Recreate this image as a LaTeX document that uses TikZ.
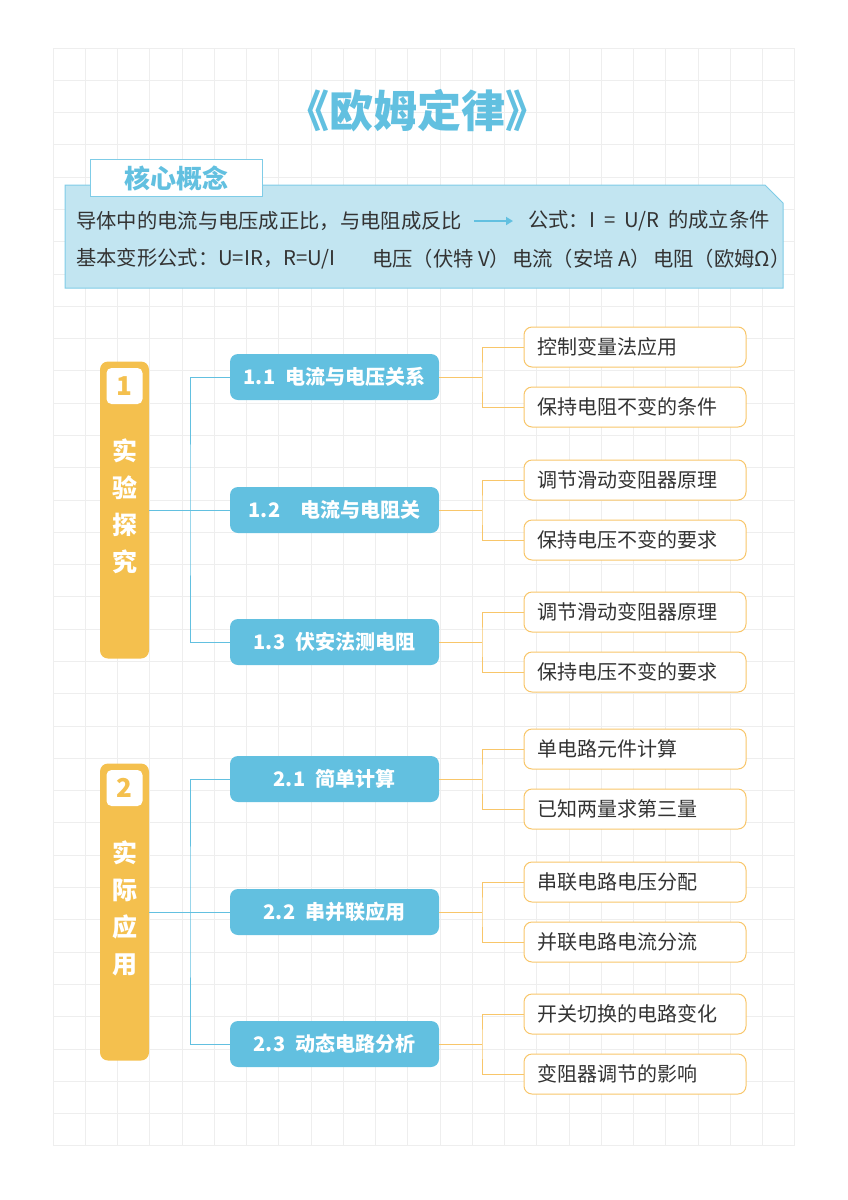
\documentclass[tikz,border=0pt]{standalone}
\usepackage{fontspec}
\setmainfont{Noto Sans CJK SC}
\usetikzlibrary{arrows.meta,positioning}
\definecolor{skyblue}{HTML}{62C0E0}
\definecolor{paleblue}{HTML}{C2E5F1}
\definecolor{edgeblue}{HTML}{7FCCE7}
\definecolor{sunorange}{HTML}{F4C04E}
\definecolor{leaforange}{HTML}{F8C66A}
\definecolor{inkgray}{HTML}{333333}
\definecolor{gridgray}{HTML}{EEEEEE}
\tikzset{
	gridline/.style={draw=gridgray, line width=1pt},
	plaintext/.style={inner sep=0pt, text=inkgray, font=\fontsize{20.3}{24}\selectfont},
	tabbox/.style={draw=edgeblue, fill=white, line width=1pt, minimum width=172pt, minimum height=37pt, text=skyblue, font=\fontsize{26}{30}\selectfont\bfseries},
	secbox/.style={fill=sunorange, rounded corners=8pt, minimum width=49pt, minimum height=297pt},
	numbox/.style={fill=white, rounded corners=5pt, minimum width=36pt, minimum height=36pt, inner sep=0pt, text=sunorange, font=\fontsize{26}{30}\selectfont\bfseries},
	secchars/.style={inner sep=0pt, align=center, text=white, font=\fontsize{25}{37}\selectfont\bfseries},
	midbox/.style={fill=skyblue, rounded corners=8pt, minimum width=209pt, minimum height=46pt, text=white, font=\fontsize{20}{24}\selectfont\bfseries},
	leafbox/.style={draw=leaforange, fill=white, line width=1pt, rounded corners=8pt, text width=196pt, inner xsep=13pt, minimum height=40pt, align=left, text=inkgray, font=\fontsize{20}{24}\selectfont},
	blueline/.style={draw=skyblue, line width=1pt},
	orangeline/.style={draw=leaforange, line width=1pt}
}
\begin{document}
\begin{tikzpicture}[x=1pt, y=-1pt]
	\useasboundingbox (0,0) rectangle (848,1200);
	\foreach \i in {0,...,23} \draw[gridline] ({53+\i*32.26},48) -- ({53+\i*32.26},1146);
	\foreach \j in {0,...,34} \draw[gridline] (53,{48+\j*32.29}) -- (795,{48+\j*32.29});

	\node[text=skyblue, font=\fontsize{44}{50}\selectfont\bfseries] (title) at (417,111) {《欧姆定律》};

	\draw[draw=edgeblue, fill=paleblue, line width=1pt] (65,185) -- (765,185) -- (783,203) -- (783,288) -- (65,288) -- cycle;
	\node[tabbox] (tab) at (176,178) {核心概念};
	\node[plaintext, anchor=west] (c1a) at (76,221) {导体中的电流与电压成正比，与电阻成反比};
	\node[plaintext, anchor=west] (c1b) at (528,221) {公式：I\ \ =\ \ U/R\ \ 的成立条件};
	\node[plaintext, anchor=west] (c2a) at (76,259) {基本变形公式：U=IR，R=U/I};
	\node[plaintext, anchor=west] (c2b) at (372,259) {电压（伏特 V）};
	\node[plaintext, anchor=west] (c2c) at (512,259) {电流（安培 A）};
	\node[plaintext, anchor=west] (c2d) at (653,259) {电阻（欧姆Ω）};
	\draw[draw=skyblue, line width=2pt, -{Triangle[length=7pt,width=8pt]}] ([xshift=12pt]c1a.east) -- ([xshift=-15pt]c1b.west);

	\node[secbox] (s1) at (124.5,510) {};
	\node[numbox, below=6.5pt of s1.north] (n1) {1};
	\node[secchars, yshift=3.5pt] (t1) at (s1.center) {实\\验\\探\\究};
	\node[midbox] (m11) at (334.5,377) {1.1\hspace{10pt}电流与电压关系};
	\node[midbox] (m12) at (334.5,510) {1.2\hspace{20pt}电流与电阻关};
	\node[midbox] (m13) at (334.5,642) {1.3\hspace{10pt}伏安法测电阻};
	\coordinate (j1) at (190,510);
	\draw[blueline] (s1.east) -- (m12.west);
	\draw[blueline] (m11.west) -| (j1) |- (m13.west);

	\node[secbox] (s2) at (124.5,912) {};
	\node[numbox, below=6.5pt of s2.north] (n2) {2};
	\node[secchars, yshift=4pt] (t2) at (s2.center) {实\\际\\应\\用};
	\node[midbox] (m21) at (334.5,779) {2.1\hspace{10pt}简单计算};
	\node[midbox] (m22) at (334.5,912) {2.2\hspace{10pt}串并联应用};
	\node[midbox] (m23) at (334.5,1044) {2.3\hspace{10pt}动态电路分析};
	\coordinate (j2) at (190,912);
	\draw[blueline] (s2.east) -- (m22.west);
	\draw[blueline] (m21.west) -| (j2) |- (m23.west);

	\foreach \id/\y/\a/\b in {11/377/控制变量法应用/保持电阻不变的条件, 12/510/调节滑动变阻器原理/保持电压不变的要求, 13/642/调节滑动变阻器原理/保持电压不变的要求, 21/779/单电路元件计算/已知两量求第三量, 22/912/串联电路电压分配/并联电路电流分流, 23/1044/开关切换的电路变化/变阻器调节的影响} {
		\node[leafbox] (l\id a) at (635,{\y-30}) {\a};
		\node[leafbox] (l\id b) at (635,{\y+30}) {\b};
		\coordinate (k\id) at (482,\y);
		\draw[orangeline] (m\id.east) -- (k\id);
		\draw[orangeline] (l\id a.west) -| (k\id) |- (l\id b.west);
	}
\end{tikzpicture}
\end{document}
